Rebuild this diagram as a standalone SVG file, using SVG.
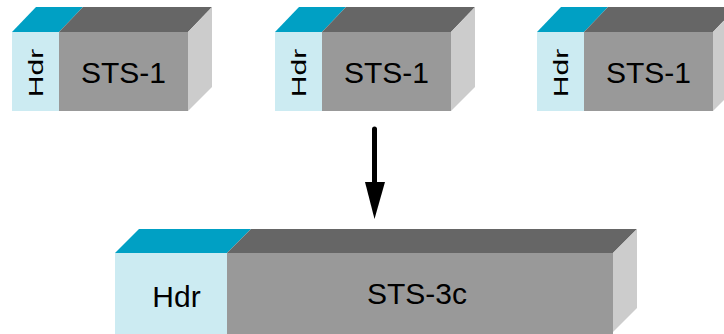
<svg xmlns="http://www.w3.org/2000/svg" width="724" height="334" viewBox="0 0 724 334">
  <defs>
    <style>
      .hdr-top { fill: #00A0C4; }
      .hdr-front { fill: #CCEBF2; }
      .pay-top { fill: #666666; }
      .pay-front { fill: #999999; }
      .side { fill: #CCCCCC; }
      .lbl { font-family: "Liberation Sans", Arial, sans-serif; fill: #000000; text-anchor: middle; }
    </style>
  </defs>

  <!-- frame 1 -->
  <g id="sts1-a">
    <polygon class="hdr-top" points="12,32 36,7 83,7 59,32"/>
    <polygon class="pay-top" points="59,32 83,7 212,7 188,32"/>
    <polygon class="side" points="188,32 212,7 212,87 188,111"/>
    <rect class="hdr-front" x="12" y="32" width="47" height="79"/>
    <rect class="pay-front" x="59" y="32" width="129" height="79"/>
    <text class="lbl" font-size="20" transform="translate(43,73) rotate(-90) scale(1.5,1)">Hdr</text>
    <text class="lbl" font-size="30" x="123.5" y="83">STS-1</text>
  </g>

  <!-- frame 2 -->
  <g id="sts1-b">
    <polygon class="hdr-top" points="275,32 299,7 346,7 322,32"/>
    <polygon class="pay-top" points="322,32 346,7 475,7 451,32"/>
    <polygon class="side" points="451,32 475,7 475,87 451,111"/>
    <rect class="hdr-front" x="275" y="32" width="47" height="79"/>
    <rect class="pay-front" x="322" y="32" width="129" height="79"/>
    <text class="lbl" font-size="20" transform="translate(306,73) rotate(-90) scale(1.5,1)">Hdr</text>
    <text class="lbl" font-size="30" x="386.5" y="83">STS-1</text>
  </g>

  <!-- frame 3 -->
  <g id="sts1-c">
    <polygon class="hdr-top" points="537,32 561,7 608,7 584,32"/>
    <polygon class="pay-top" points="584,32 608,7 737,7 713,32"/>
    <polygon class="side" points="713,32 737,7 737,87 713,111"/>
    <rect class="hdr-front" x="537" y="32" width="47" height="79"/>
    <rect class="pay-front" x="584" y="32" width="129" height="79"/>
    <text class="lbl" font-size="20" transform="translate(568,73) rotate(-90) scale(1.5,1)">Hdr</text>
    <text class="lbl" font-size="30" x="648.5" y="83">STS-1</text>
  </g>

  <!-- concatenated frame -->
  <g id="sts3c">
    <polygon class="hdr-top" points="115,253 139,229 251,229 227,253"/>
    <polygon class="pay-top" points="227,253 251,229 637,229 613,253"/>
    <polygon class="side" points="613,253 637,229 637,308 613,332"/>
    <rect class="hdr-front" x="115" y="253" width="112" height="81"/>
    <rect class="pay-front" x="227" y="253" width="386" height="81"/>
    <text class="lbl" font-size="30" x="176.5" y="307">Hdr</text>
    <text class="lbl" font-size="30" x="417" y="304">STS-3c</text>
  </g>

  <!-- connectors -->
  <g id="connectors">
    <line x1="374.5" y1="129" x2="374.5" y2="186" stroke="#000000" stroke-width="5" stroke-linecap="round"/>
    <path d="M365,182 L385,182 L374.5,219 Z" fill="#000000"/>
  </g>
</svg>
